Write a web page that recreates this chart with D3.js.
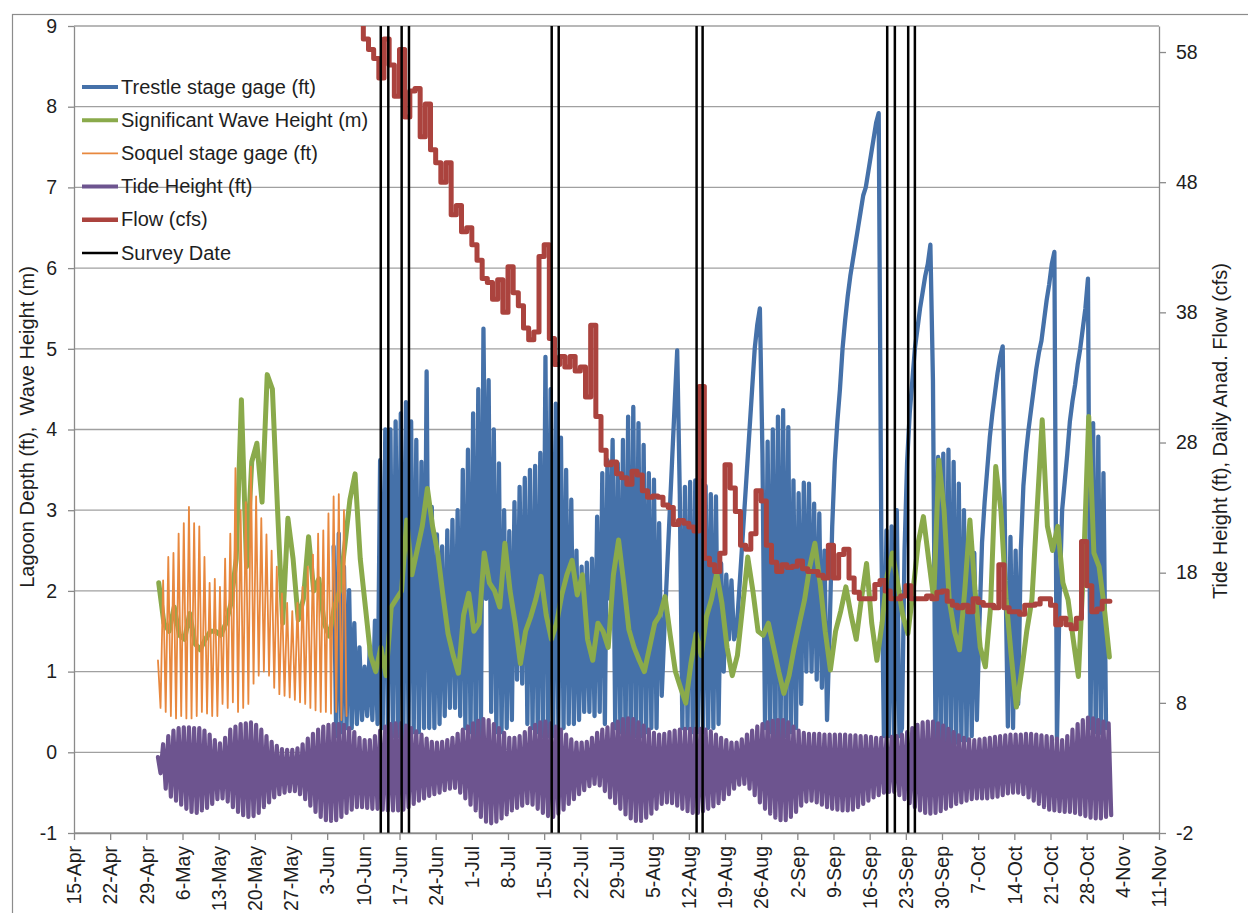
<!DOCTYPE html>
<html>
<head>
<meta charset="utf-8">
<script src="https://cdn.jsdelivr.net/npm/d3@7"></script>
<style>
  body { margin: 0; background: #fff; }
  text { font-family: "Liberation Sans", Arial, sans-serif; }
</style>
</head>
<body>
<svg id="chart" width="1248" height="913"></svg>
<script>
// ---- axis settings ----
const axisStart = "2013-04-15";
const axisEnd = "2013-11-11";
const depthTicks = [-1, 0, 1, 2, 3, 4, 5, 6, 7, 8, 9];
const flowTicks = [-2, 8, 18, 28, 38, 48, 58];

// ---- tide height (ft): daily high / low, from 1 May ----
const tideStart = "2013-05-01";
const tideHigh = [
  -0.06,0.10,0.20,0.27,0.30,0.31,0.31,0.30,0.30,0.27,
  0.22,0.15,0.11,0.18,0.28,0.32,0.35,0.36,0.37,0.34,
  0.28,0.20,0.13,0.08,0.04,0.03,0.03,0.05,0.10,0.17,
  0.23,0.28,0.32,0.34,0.35,0.35,0.34,0.30,0.25,0.18,
  0.15,0.15,0.20,0.27,0.32,0.35,0.36,0.36,0.33,0.30,
  0.26,0.22,0.17,0.13,0.12,0.13,0.15,0.18,0.23,0.28,
  0.32,0.36,0.39,0.41,0.40,0.35,0.30,0.24,0.18,0.18,
  0.20,0.25,0.30,0.34,0.37,0.38,0.36,0.32,0.28,0.22,
  0.16,0.12,0.12,0.13,0.18,0.24,0.28,0.31,0.35,0.38,
  0.41,0.42,0.41,0.37,0.33,0.28,0.24,0.22,0.23,0.25,
  0.27,0.28,0.29,0.29,0.29,0.29,0.28,0.26,0.22,0.18,
  0.15,0.12,0.12,0.16,0.22,0.27,0.32,0.35,0.37,0.39,
  0.40,0.40,0.37,0.32,0.27,0.24,0.23,0.23,0.23,0.22,
  0.22,0.22,0.22,0.22,0.21,0.21,0.20,0.20,0.19,0.18,
  0.18,0.18,0.19,0.20,0.22,0.25,0.30,0.34,0.37,0.38,
  0.38,0.36,0.33,0.29,0.25,0.21,0.18,0.16,0.15,0.16,
  0.17,0.18,0.19,0.20,0.21,0.22,0.22,0.22,0.23,0.23,
  0.22,0.21,0.20,0.19,0.17,0.15,0.20,0.28,0.35,0.40,
  0.43,0.42,0.40,0.38,0.36
];
const tideLow = [
  -0.26,-0.45,-0.55,-0.60,-0.65,-0.70,-0.74,-0.75,-0.72,-0.69,
  -0.64,-0.58,-0.57,-0.61,-0.68,-0.74,-0.78,-0.80,-0.79,-0.75,
  -0.68,-0.62,-0.56,-0.52,-0.50,-0.48,-0.48,-0.52,-0.58,-0.66,
  -0.74,-0.80,-0.84,-0.85,-0.84,-0.80,-0.75,-0.71,-0.68,-0.68,
  -0.69,-0.70,-0.70,-0.71,-0.72,-0.72,-0.72,-0.71,-0.68,-0.64,
  -0.60,-0.57,-0.54,-0.52,-0.50,-0.47,-0.45,-0.44,-0.50,-0.57,
  -0.65,-0.72,-0.80,-0.86,-0.88,-0.86,-0.82,-0.77,-0.72,-0.69,
  -0.66,-0.63,-0.65,-0.70,-0.75,-0.79,-0.80,-0.76,-0.71,-0.64,
  -0.58,-0.52,-0.47,-0.42,-0.39,-0.41,-0.48,-0.56,-0.63,-0.70,
  -0.77,-0.82,-0.85,-0.85,-0.81,-0.76,-0.70,-0.64,-0.62,-0.63,
  -0.66,-0.70,-0.73,-0.75,-0.75,-0.73,-0.70,-0.67,-0.63,-0.58,
  -0.52,-0.45,-0.40,-0.39,-0.45,-0.53,-0.62,-0.70,-0.76,-0.81,
  -0.84,-0.84,-0.80,-0.74,-0.66,-0.61,-0.60,-0.62,-0.65,-0.68,
  -0.70,-0.71,-0.72,-0.72,-0.71,-0.68,-0.64,-0.60,-0.56,-0.53,
  -0.50,-0.49,-0.49,-0.53,-0.58,-0.63,-0.68,-0.72,-0.75,-0.76,
  -0.75,-0.73,-0.70,-0.67,-0.64,-0.62,-0.60,-0.58,-0.57,-0.57,
  -0.57,-0.56,-0.55,-0.53,-0.51,-0.50,-0.50,-0.52,-0.56,-0.60,
  -0.64,-0.68,-0.71,-0.72,-0.73,-0.74,-0.74,-0.75,-0.77,-0.79,
  -0.81,-0.82,-0.82,-0.80,-0.78
];

// ---- Trestle stage gage (ft): daily high / low, from 4 Jun ----
const trestleStart = "2013-06-04";
const trestleHigh = [
  2.55,2.71,2.30,2.01,1.60,1.30,1.06,1.30,1.63,3.62,
  4.00,4.00,4.10,4.20,4.34,4.10,3.87,3.60,4.72,3.04,
  2.70,2.55,2.75,2.88,3.00,3.50,3.75,4.20,4.50,5.25,
  4.61,4.00,3.58,3.00,2.74,3.10,3.29,3.40,3.50,3.55,
  3.71,4.90,4.50,4.32,3.90,3.50,3.13,2.50,2.30,2.35,
  2.40,2.92,3.46,3.62,3.87,3.58,3.87,4.16,4.28,4.08,
  3.81,3.46,3.38,2.84,1.50,2.90,4.30,3.20,3.29,3.35,
  3.37,3.37,3.30,3.20,3.17,2.34,2.20,2.13,1.50,2.50,
  3.50,4.50,5.30,3.70,3.85,4.00,4.16,4.24,4.03,3.37,
  3.21,3.34,3.33,3.08,2.96,2.50,1.50,3.60,4.50,5.35,
  5.90,6.30,6.70,7.00,7.40,7.80,2.70,2.75,2.80,3.00,
  0.30,3.60,4.60,5.25,5.70,6.05,4.60,3.66,3.70,3.75,
  3.60,3.33,3.00,2.80,2.47,1.60,3.10,3.90,4.45,4.90,
  2.35,2.67,2.50,2.50,3.70,4.25,4.75,5.10,5.60,6.05,
  0.15,3.00,3.70,4.35,4.80,5.25,5.87,4.08,3.91,3.46
];
const trestleLow = [
  0.20,0.25,0.30,0.30,0.35,0.40,0.45,0.40,0.35,0.30,
  0.25,0.20,0.20,0.15,0.20,0.25,0.25,0.30,0.30,0.30,
  0.35,0.45,0.55,0.55,0.45,0.30,0.25,0.20,0.20,1.90,
  0.50,0.25,0.25,0.30,0.40,0.90,0.85,0.35,0.30,0.25,
  0.20,0.20,0.20,0.25,0.30,0.35,0.35,0.40,0.50,0.50,
  0.45,0.50,0.35,1.90,0.30,0.25,0.20,0.20,0.20,0.20,
  0.25,0.30,0.30,0.70,2.20,3.60,4.98,0.30,0.30,0.25,
  0.25,0.25,0.30,0.30,0.35,1.00,1.40,1.40,2.00,3.00,
  4.00,5.00,5.50,0.30,0.25,0.20,0.20,0.20,0.25,0.30,
  0.60,1.00,1.00,0.90,0.80,0.40,2.80,4.10,5.00,5.65,
  6.10,6.50,6.90,7.20,7.60,7.92,0.20,0.20,0.15,0.20,
  2.50,4.20,5.00,5.50,5.90,6.29,0.12,0.12,0.12,0.12,
  0.12,0.15,0.15,0.20,0.40,2.60,3.50,4.20,4.70,5.03,
  0.32,0.30,0.60,3.30,4.00,4.50,4.95,5.35,5.80,6.20,
  1.90,3.35,4.10,4.55,5.00,5.50,0.30,0.25,0.24,0.30
];

// ---- Soquel stage gage (ft): daily high / low, from 1 May ----
const soquelStart = "2013-05-01";
const soquelHigh = [
  1.14,2.13,2.42,2.47,2.71,2.84,3.04,2.84,2.80,2.42,
  2.10,2.15,2.05,2.40,2.71,3.52,3.00,3.10,3.54,3.17,
  2.90,2.70,2.50,2.30,1.97,1.85,1.75,1.85,2.05,2.30,
  2.45,2.71,2.75,2.96,3.17,3.20,3.00
];
const soquelLow = [
  0.55,0.50,0.45,0.42,0.45,0.42,0.42,0.45,0.50,0.48,
  0.45,0.45,0.60,0.55,0.62,0.50,0.55,0.60,0.85,0.95,
  1.00,0.95,0.80,0.72,0.70,0.68,0.65,0.62,0.60,0.55,
  0.52,0.50,0.50,0.48,0.50,0.40,0.45
];

// ---- Significant wave height (m): daily, from 1 May ----
const waveStart = "2013-05-01";
const waveHeight = [
  2.10,1.60,1.50,1.80,1.45,1.40,1.72,1.35,1.27,1.40,
  1.50,1.50,1.45,1.60,1.85,2.40,4.37,2.30,3.60,3.83,
  3.10,4.68,4.50,3.00,1.60,2.90,2.40,1.64,1.90,2.67,
  2.00,2.15,1.60,1.44,1.80,2.00,2.55,3.13,3.45,2.40,
  1.80,1.20,1.00,1.30,0.95,1.80,1.90,2.00,2.88,2.20,
  2.50,2.80,3.27,2.80,2.47,1.95,1.47,1.20,0.98,1.70,
  1.97,1.50,1.60,2.47,2.10,2.00,1.80,2.59,2.00,1.60,
  1.10,1.50,1.68,1.90,2.18,1.70,1.40,1.60,1.95,2.20,
  2.38,1.95,2.20,1.40,1.14,1.60,1.50,1.30,2.20,2.63,
  2.10,1.52,1.30,1.14,1.00,1.30,1.60,1.70,1.93,1.45,
  1.00,0.80,0.61,1.10,1.47,1.20,1.68,1.90,2.22,1.85,
  1.30,0.95,1.20,1.80,2.42,2.00,1.50,1.45,1.60,1.30,
  1.00,0.73,0.95,1.30,1.60,1.89,2.30,2.59,2.10,1.50,
  1.02,1.50,1.75,2.05,1.70,1.40,1.90,2.34,1.60,1.14,
  1.60,2.20,2.47,2.10,1.70,1.47,2.00,2.60,2.92,2.40,
  1.90,3.62,3.00,1.89,1.50,1.27,2.00,2.88,2.00,1.30,
  1.06,1.80,3.54,3.00,1.90,1.20,0.56,1.00,1.50,1.89,
  3.00,4.12,2.80,2.50,2.80,2.10,1.89,1.40,0.94,2.30,
  4.16,2.47,2.30,1.80,1.18
];

// ---- Daily Anad. flow (cfs), from 9 Jun ----
const flowStart = "2013-06-09";
const flowCfs = [
  62.0,59.0,58.2,57.5,56.0,59.0,57.0,54.6,58.2,53.0,
  55.0,55.2,51.5,54.0,50.5,49.5,48.0,49.5,45.5,46.2,
  44.2,44.5,43.2,42.0,40.6,40.3,39.0,40.5,38.0,41.5,
  39.5,38.5,36.8,35.9,36.5,42.3,43.2,36.0,34.0,34.6,
  33.8,34.6,33.5,33.8,31.5,37.0,30.0,27.4,26.3,26.5,
  25.6,25.3,24.8,25.8,25.5,24.3,23.8,23.9,23.8,23.2,
  23.0,21.7,22.0,21.8,21.5,21.2,32.3,19.1,18.6,18.1,
  19.5,26.3,24.5,22.7,20.1,19.8,21.0,24.3,23.5,20.1,
  18.8,18.1,18.6,18.4,18.5,18.9,18.3,18.1,18.1,17.8,
  17.6,20.1,17.6,19.4,19.8,17.6,16.5,16.0,16.0,16.0,
  17.1,17.4,16.6,16.0,16.0,16.2,17.0,16.0,16.0,16.0,
  16.2,16.0,16.5,16.6,15.8,15.5,15.3,15.5,15.0,16.0,
  15.7,15.5,15.5,15.3,18.6,15.3,15.0,15.0,14.8,15.5,
  15.5,15.6,16.0,16.0,15.5,14.0,14.5,14.0,13.7,14.5,
  20.4,17.0,15.0,15.2,15.8,15.8
];

// ---- survey dates ----
const surveyTimes = [
  "2013-06-13T09:00","2013-06-14T20:00","2013-06-17T10:00","2013-06-18T20:00",
  "2013-07-16T11:00","2013-07-17T19:30","2013-08-13T12:00","2013-08-14T16:00",
  "2013-09-19T09:30","2013-09-20T21:00","2013-09-23T11:00","2013-09-24T18:00"
];

// ---- legend ----
const legendNames = ["Trestle stage gage (ft)", "Significant Wave Height (m)", "Soquel stage gage (ft)",
                     "Tide Height (ft)", "Flow (cfs)", "Survey Date"];
const seriesColors = ["#4571a9", "#8aaa4b", "#e8883e", "#6d548f", "#ab433e", "#000000"];
const seriesWidths = [4.3, 5, 1.8, 4.2, 5, 2.5];
const legendWidths = [4, 4, 1.6, 4, 4.5, 2.5];

// ---------------------------------------------------------------
const DAY = 864e5;
const parseDay = d3.utcParse("%Y-%m-%d");
const parseTime = d3.utcParse("%Y-%m-%dT%H:%M");

const plot = { left: 74, right: 1159, top: 26, bottom: 833 };
const svg = d3.select("#chart");

const x = d3.scaleUtc().domain([parseDay(axisStart), parseDay(axisEnd)]).range([plot.left, plot.right]);
const yL = d3.scaleLinear().domain([-1, 9]).range([plot.bottom, plot.top]);
const yR = d3.scaleLinear().domain([-2, 60]).range([plot.bottom, plot.top]);

// outer chart frame
svg.append("rect").attr("x", 12.5).attr("y", 14.5).attr("width", 1260).attr("height", 920)
  .attr("fill", "none").attr("stroke", "#8c8c8c").attr("stroke-width", 1.2);

// horizontal gridlines
svg.append("g").selectAll("line").data(depthTicks).join("line")
  .attr("x1", plot.left).attr("x2", plot.right)
  .attr("y1", d => yL(d)).attr("y2", d => yL(d))
  .attr("stroke", "#a0a0a0").attr("stroke-width", 1.3);

svg.append("defs").append("clipPath").attr("id", "plotClip")
  .append("rect").attr("x", plot.left).attr("y", plot.top)
  .attr("width", plot.right - plot.left).attr("height", plot.bottom - plot.top);

// high/low pairs -> alternating points through the day
function tidal(start, hi, lo) {
  const t0 = +parseDay(start);
  const pts = [];
  hi.forEach((h, i) => {
    pts.push([new Date(t0 + (i + 0.25) * DAY), h]);
    pts.push([new Date(t0 + (i + 0.75) * DAY), lo[i]]);
  });
  return pts;
}
function daily(start, vals, offset) {
  const t0 = +parseDay(start);
  return vals.map((v, i) => [new Date(t0 + (i + offset) * DAY), v]);
}

const series = svg.append("g").attr("clip-path", "url(#plotClip)");
const lineL = d3.line().x(d => x(d[0])).y(d => yL(d[1]));
const lineR = d3.line().x(d => x(d[0])).y(d => yR(d[1])).curve(d3.curveStep);

function draw(path, i) {
  series.append("path").attr("d", path).attr("fill", "none")
    .attr("stroke", seriesColors[i]).attr("stroke-width", seriesWidths[i])
    .attr("stroke-linejoin", "round").attr("stroke-linecap", "round");
}
draw(lineL(tidal(trestleStart, trestleHigh, trestleLow)), 0);
draw(lineL(daily(waveStart, waveHeight, 0.4)), 1);
draw(lineL(tidal(soquelStart, soquelHigh, soquelLow)), 2);
draw(lineL(tidal(tideStart, tideHigh, tideLow)), 3);
draw(lineR(daily(flowStart, flowCfs, 0.5)), 4);

// survey date markers
series.append("g").selectAll("line").data(surveyTimes.map(parseTime)).join("line")
  .attr("x1", d => x(d)).attr("x2", d => x(d))
  .attr("y1", yL(-1)).attr("y2", yL(9))
  .attr("stroke", seriesColors[5]).attr("stroke-width", seriesWidths[5]);

// ---- axes ----
const axisGrey = "#8a8a8a";
const labelColor = "#1e1e1e";
const plainNumber = d => String(d);
function styleAxis(g) {
  g.select(".domain").attr("stroke", axisGrey).attr("stroke-width", 1.3);
  g.selectAll(".tick line").attr("stroke", axisGrey).attr("stroke-width", 1.3);
  g.selectAll(".tick text").attr("fill", labelColor).attr("font-size", 19.5);
}

const weekTicks = d3.range(0, 211, 7).map(k => d3.utcDay.offset(parseDay(axisStart), k));
const gx = svg.append("g").attr("transform", `translate(0,${plot.bottom})`)
  .call(d3.axisBottom(x).tickValues(weekTicks).tickFormat(d3.utcFormat("%-d-%b")).tickSize(7).tickSizeOuter(0));
styleAxis(gx);
gx.selectAll(".tick text").attr("transform", "rotate(-90)")
  .attr("x", -13).attr("y", 0).attr("dy", "0.35em").attr("text-anchor", "end");

const gl = svg.append("g").attr("transform", `translate(${plot.left},0)`)
  .call(d3.axisLeft(yL).tickValues(depthTicks).tickFormat(plainNumber).tickSize(6).tickPadding(11).tickSizeOuter(0));
styleAxis(gl);

const gr = svg.append("g").attr("transform", `translate(${plot.right},0)`)
  .call(d3.axisRight(yR).tickValues(flowTicks).tickFormat(plainNumber).tickSize(7).tickPadding(10).tickSizeOuter(0));
styleAxis(gr);

// axis titles
svg.append("text").attr("transform", "translate(27,427) rotate(-90)")
  .attr("text-anchor", "middle").attr("dy", "0.35em").attr("font-size", 20).attr("fill", labelColor)
  .style("white-space", "pre").text("Lagoon Depth (ft),  Wave Height (m)");
svg.append("text").attr("transform", "translate(1220,431) rotate(-90)")
  .attr("text-anchor", "middle").attr("dy", "0.35em").attr("font-size", 20).attr("fill", labelColor)
  .text("Tide Height (ft), Daily Anad. Flow (cfs)");

// ---- legend ----
const legend = svg.append("g").attr("transform", "translate(82,87)");
const item = legend.selectAll("g").data(legendNames).join("g")
  .attr("transform", (d, i) => `translate(0,${i * 33.2})`);
item.append("line").attr("x1", 0).attr("x2", 36)
  .attr("stroke", (d, i) => seriesColors[i])
  .attr("stroke-width", (d, i) => legendWidths[i]);
item.append("text").attr("x", 39).attr("dy", "0.33em").attr("font-size", 20)
  .attr("fill", labelColor).text(d => d);
</script>
</body>
</html>
